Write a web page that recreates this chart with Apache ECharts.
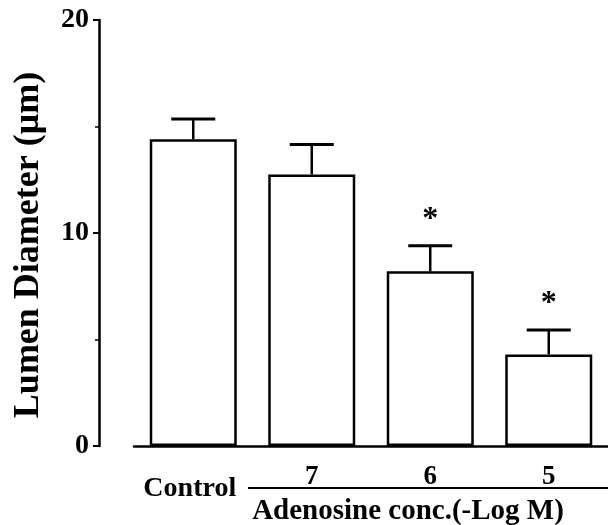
<!DOCTYPE html>
<html>
<head>
<meta charset="utf-8">
<script src="https://cdn.jsdelivr.net/npm/echarts@6/dist/echarts.min.js"></script>
<style>
html,body{margin:0;padding:0;background:#fff;}
#chart{width:608px;height:525px;}
</style>
</head>
<body>
<div id="chart"></div>
<script>
var categories = ['Control', '7', '6', '5'];
var means = [14.4, 12.75, 8.2, 4.3];
var errors = [0.95, 1.4, 1.2, 1.15];
var sig = ['', '', '*', '*'];
var yTicks = [0, 10, 20];
var xTitle = 'Adenosine conc.(-Log M)';
var yTitle = 'Lumen Diameter (\u03bcm)';

var FONT = "'Liberation Serif', 'Times New Roman', serif";
var chart = echarts.init(document.getElementById('chart'));

var errData = categories.map(function (c, i) { return [i, means[i], errors[i]]; });

var option = {
  backgroundColor: '#fff',
  animation: false,
  grid: { left: 134, right: 0, top: 20, bottom: 79, outerBoundsMode: 'none' },
  xAxis: {
    type: 'category',
    data: categories,
    axisLine: { lineStyle: { color: '#000', width: 2.5 } },
    axisTick: { show: false },
    axisLabel: {
      interval: 0,
      margin: 18,
      color: '#000',
      fontFamily: FONT,
      fontWeight: 'bold',
      fontSize: 27,
      formatter: function (v) {
        return v === 'Control' ? '{c|' + v + '}' : '{n|' + v + '}';
      },
      rich: {
        n: { fontFamily: FONT, fontWeight: 'bold', fontSize: 27, color: '#000' },
        c: { fontFamily: FONT, fontWeight: 'bold', fontSize: 28, color: '#000', padding: [11, 7, 0, 0] }
      }
    }
  },
  yAxis: {
    type: 'value',
    min: yTicks[0],
    max: yTicks[yTicks.length - 1],
    interval: 10,
    offset: 35,
    splitLine: { show: false },
    axisLine: { show: true, lineStyle: { color: '#000', width: 2.5 } },
    axisTick: { show: true, inside: false, length: 6, lineStyle: { color: '#000', width: 2 } },
    minorTick: { show: true, splitNumber: 2, length: 4, lineStyle: { color: '#000', width: 1.5 } },
    axisLabel: {
      margin: 10,
      color: '#000',
      fontFamily: FONT,
      fontWeight: 'bold',
      fontSize: 28
    },
    name: yTitle,
    nameLocation: 'middle',
    nameGap: 52,
    nameTextStyle: {
      fontFamily: FONT, fontWeight: 'bold', fontSize: 36, color: '#000',
      padding: [0, 24, 0, 0]
    }
  },
  series: [
    {
      type: 'bar',
      data: means,
      barWidth: 87,
      itemStyle: { color: '#fff', borderColor: '#000', borderWidth: 2.5 },
      z: 2
    },
    {
      type: 'custom',
      data: errData,
      z: 3,
      renderItem: function (params, api) {
        var i = api.value(0), m = api.value(1), e = api.value(2);
        var base = api.coord([i, m]);
        var top = api.coord([i, m + e]);
        var children = [
          { type: 'line', shape: { x1: top[0], y1: base[1], x2: top[0], y2: top[1] },
            style: { stroke: '#000', lineWidth: 2.5 } },
          { type: 'line', shape: { x1: top[0] - 22, y1: top[1], x2: top[0] + 22, y2: top[1] },
            style: { stroke: '#000', lineWidth: 3 } }
        ];
        if (sig[params.dataIndex]) {
          children.push({
            type: 'text',
            style: {
              text: sig[params.dataIndex], x: top[0], y: top[1] - 26,
              align: 'center', verticalAlign: 'middle',
              font: 'bold 32px ' + FONT, fill: '#000'
            }
          });
        }
        return { type: 'group', children: children };
      }
    }
  ],
  graphic: [
    {
      type: 'line',
      shape: { x1: 248, y1: 488, x2: 608, y2: 488 },
      style: { stroke: '#000', lineWidth: 2 }
    },
    {
      type: 'text',
      x: 408,
      y: 512,
      style: {
        text: xTitle,
        align: 'center',
        verticalAlign: 'middle',
        font: 'bold 29px ' + FONT,
        fill: '#000'
      }
    }
  ]
};
chart.setOption(option);
</script>
</body>
</html>
